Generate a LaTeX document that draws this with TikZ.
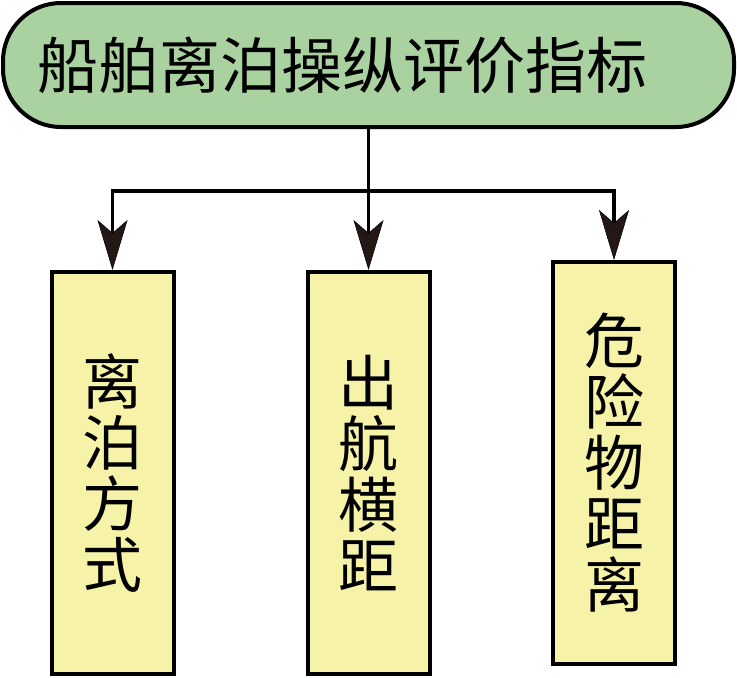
\documentclass[tikz,border=0pt]{standalone}
\usepackage{fontspec}
\setmainfont{Noto Sans CJK SC}
\usetikzlibrary{arrows.meta}
\definecolor{topgreen}{RGB}{170,210,161}
\definecolor{boxyellow}{RGB}{246,243,168}
\definecolor{inkdark}{RGB}{35,24,21}
\begin{document}
\begin{tikzpicture}[x=1pt,y=-1pt,
  topbox/.style={draw=black, line width=4pt, fill=topgreen, rounded corners=58pt,
    minimum width=731pt, minimum height=124pt, inner sep=0pt,
    font=\fontsize{61pt}{61pt}\selectfont},
  leaf/.style={draw=black, line width=4pt, fill=boxyellow, minimum width=122pt,
    minimum height=402pt, inner sep=0pt, align=center,
    font=\fontsize{60pt}{61pt}\selectfont},
  conn/.style={line width=3.6pt, draw=black},
  arr/.style={conn, -{Stealth[length=50pt,width=30pt,inset=13pt,fill=inkdark,line width=0.5pt]}},
]
\path[fill=white] (0,0) rectangle (737,678);
\useasboundingbox (0,0) rectangle (737,678);
\node[topbox] (top) at (368.5,65) {船舶离泊操纵评价指标\hspace*{52pt}};
\node[leaf] (left) at (112.5,473) {离\\泊\\方\\式};
\node[leaf] (mid) at (368.5,473) {出\\航\\横\\距};
\node[leaf] (right) at (614,463) {危\\险\\物\\距\\离};
\coordinate (split) at (368.5,191);
\draw[arr] (top.south) -- (mid.north);
\draw[arr] (split) -| (left.north);
\draw[arr] (split) -| (right.north);
\end{tikzpicture}
\end{document}
